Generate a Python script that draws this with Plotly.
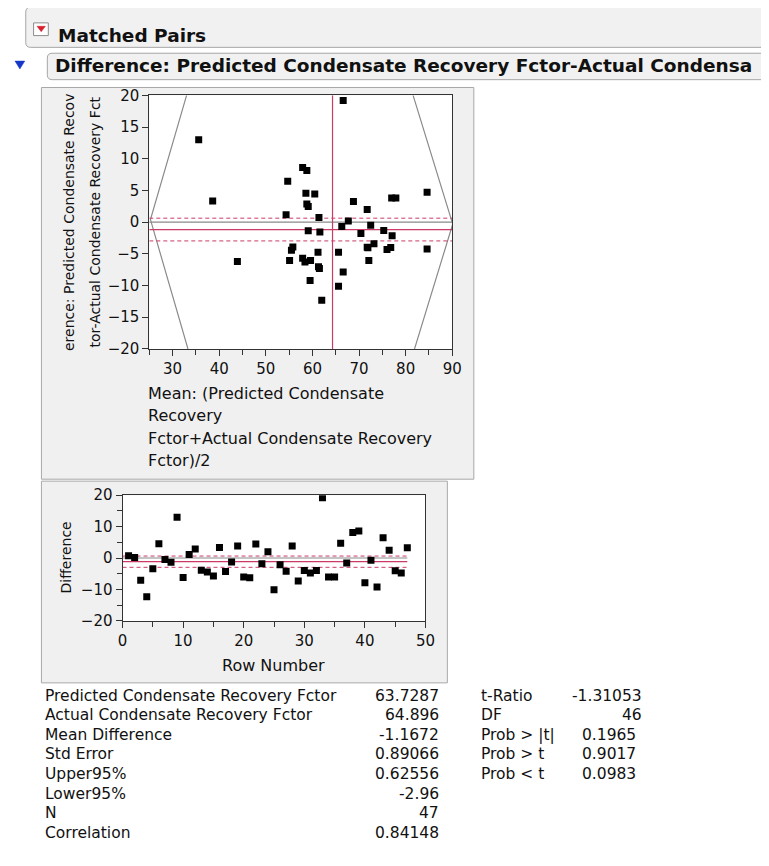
import plotly.graph_objects as go

W, H = 769, 866


def px(x):
    return x / W


def py(y):
    return 1 - y / H


# ---------------- data ----------------
row_number = list(range(1, 48))
difference = [0.75, 0.2, -7.05, -12.3, -3.4, 4.55, -0.5, -1.35, 13.0, -6.2,
              1.15, 2.85, -3.9, -4.45, -5.7, 3.35, -4.3, -1.3, 3.8, -6.05,
              -6.3, 4.45, -1.8, 2.0, -10.1, -2.15, -4.25, 3.8, -7.3, -3.95,
              -4.75, -4.0, 19.2, -6.05, -6.05, 4.7, -1.55, 8.15, 8.6, -7.85,
              -0.7, -9.2, 6.45, 2.45, -4.05, -4.75, 3.25]
mean_pair = [61.4, 67.7, 61.3, 62.0, 73.2, 58.6, 72.5, 59.1, 35.6, 43.9,
             54.35, 58.8, 55.8, 55.5, 57.9, 38.6, 76.0, 75.3, 77.0, 55.1,
             58.4, 60.5, 70.4, 71.75, 65.6, 77.1, 84.6, 77.9, 61.5, 71.75,
             61.2, 76.8, 66.6, 59.6, 72.1, 84.6, 61.6, 58.8, 57.9, 66.6,
             66.3, 59.5, 54.7, 59.1, 71.9, 65.6, 68.8]

pred_mean = 63.7287
act_mean = 64.896
mean_diff = -1.1672
std_err = 0.89066
upper95 = 0.62556
lower95 = -2.96
n_obs = 47
correlation = 0.84148
t_ratio = -1.31053
dof = 46
prob_abs = 0.1965
prob_gt = 0.9017
prob_lt = 0.0983

# envelope (grey) lines of the mean-difference plot
env_left_x = [33.0, 25.25, 33.3]
env_left_y = [20, 0.4, -20]
env_right_x = [81.6, 90.1, 81.9]
env_right_y = [20, -0.3, -20]

mean_range = [25, 90]
diff_range = [-20, 20]
row_range = [0, 50]

stat_labels = ["Predicted Condensate Recovery Fctor", "Actual Condensate Recovery Fctor",
               "Mean Difference", "Std Error", "Upper95%", "Lower95%", "N", "Correlation"]
stat_values = [pred_mean, act_mean, mean_diff, std_err, upper95, lower95, n_obs, correlation]
test_labels = ["t-Ratio", "DF", "Prob > |t|", "Prob > t", "Prob < t"]
test_values = [t_ratio, dof, prob_abs, prob_gt, prob_lt]

# ---------------- styles ----------------
FONT = "DejaVu Sans"
RED = "#cc3a66"
GREY = "#8a8a8a"
TXT = "#111111"
grand_mean = (pred_mean + act_mean) / 2

fig = go.Figure()

# scatter (mean vs difference) ------------------------------------
fig.add_trace(go.Scatter(x=env_left_x, y=env_left_y, mode="lines",
                         line=dict(color=GREY, width=1.2), xaxis="x", yaxis="y"))
fig.add_trace(go.Scatter(x=env_right_x, y=env_right_y, mode="lines",
                         line=dict(color=GREY, width=1.2), xaxis="x", yaxis="y"))
fig.add_trace(go.Scatter(x=mean_range, y=[0, 0], mode="lines",
                         line=dict(color=GREY, width=1.2), xaxis="x", yaxis="y"))
for v in (upper95, lower95):
    fig.add_trace(go.Scatter(x=mean_range, y=[v, v], mode="lines",
                             line=dict(color=RED, width=1, dash="4px,3px"), xaxis="x", yaxis="y"))
fig.add_trace(go.Scatter(x=mean_range, y=[mean_diff, mean_diff], mode="lines",
                         line=dict(color=RED, width=1.2), xaxis="x", yaxis="y"))
fig.add_trace(go.Scatter(x=[grand_mean, grand_mean], y=diff_range, mode="lines",
                         line=dict(color=RED, width=1.2), xaxis="x", yaxis="y"))
fig.add_trace(go.Scatter(x=mean_pair, y=difference, mode="markers",
                         marker=dict(symbol="square", size=7, color="black"),
                         xaxis="x", yaxis="y"))

# row plot -----------------------------------------------------------
row_span = [0, n_obs]
fig.add_trace(go.Scatter(x=row_span, y=[0, 0], mode="lines",
                         line=dict(color=GREY, width=1.2), xaxis="x2", yaxis="y2"))
for v in (upper95, lower95):
    fig.add_trace(go.Scatter(x=row_span, y=[v, v], mode="lines",
                             line=dict(color=RED, width=1, dash="4px,3px"), xaxis="x2", yaxis="y2"))
fig.add_trace(go.Scatter(x=row_span, y=[mean_diff, mean_diff], mode="lines",
                         line=dict(color=RED, width=1.2), xaxis="x2", yaxis="y2"))
fig.add_trace(go.Scatter(x=row_number, y=difference, mode="markers",
                         marker=dict(symbol="square", size=7, color="black"),
                         xaxis="x2", yaxis="y2"))

# ---------------- shapes ----------------
shapes = []


def rrect(x0, y0, x1, y1, r, fill, line):
    p = (f"M {px(x0 + r)},{py(y0)} L {px(x1)},{py(y0)} L {px(x1)},{py(y1)} "
         f"L {px(x0 + r)},{py(y1)} Q {px(x0)},{py(y1)} {px(x0)},{py(y1 - r)} "
         f"L {px(x0)},{py(y0 + r)} Q {px(x0)},{py(y0)} {px(x0 + r)},{py(y0)} Z")
    return dict(type="path", xref="paper", yref="paper", path=p,
                fillcolor=fill, line=dict(color=line, width=1), layer="below")


def rect(x0, y0, x1, y1, fill, line, width=1):
    return dict(type="rect", xref="paper", yref="paper",
                x0=px(x0), x1=px(x1), y0=py(y1), y1=py(y0),
                fillcolor=fill, line=dict(color=line, width=width), layer="below")


def tri(pts, fill):
    p = "M " + " L ".join(f"{px(a)},{py(b)}" for a, b in pts) + " Z"
    return dict(type="path", xref="paper", yref="paper", path=p,
                fillcolor=fill, line=dict(color=fill, width=0.5), layer="above")


# header 1
shapes.append(rrect(13, -10, 800, 31, 5, "#f1f1f1", "#a6a6a6"))
shapes.append(dict(type="rect", xref="paper", yref="paper", x0=px(21), x1=px(36),
                   y0=py(19), y1=py(6), fillcolor="white",
                   line=dict(color="#8c8c8c", width=1), layer="above"))
shapes.append(tri([(24.5, 9.5), (33, 9.5), (28.75, 15)], "#d8202c"))
# header 2
shapes.append(rrect(35, 37, 800, 64, 5, "#f1f1f1", "#a6a6a6"))
shapes.append(tri([(2, 45), (12, 45), (7, 53)], "#1638c8"))
# frames
shapes.append(rect(29, 72, 470, 472, "#f0f0f0", "#a8a8a8"))
shapes.append(rect(29, 474, 443, 680, "#f0f0f0", "#a8a8a8"))
# plot areas
shapes.append(rect(139, 80, 448, 339, "white", "rgba(0,0,0,0)", 0))
shapes.append(rect(111.7, 488.3, 420.7, 616.7, "white", "rgba(0,0,0,0)", 0))

# ---------------- annotations ----------------
ann = []


def text(x, y, s, size, xanchor="left", bold=False, angle=0, color=TXT):
    ann.append(dict(xref="paper", yref="paper", x=px(x), y=py(y), text=s,
                    showarrow=False, xanchor=xanchor, yanchor="middle",
                    textangle=angle, borderpad=0,
                    font=dict(family=FONT, size=size, color=color,
                              weight="bold" if bold else "normal")))


text(45, 19, "Matched Pairs", 18.5, bold=True)
text(42, 50, "Difference: Predicted Condensate Recovery Fctor-Actual Condensa", 18.5, bold=True)

# scatter axis titles
text(57, 209.5, "erence: Predicted Condensate Recov", 14, xanchor="center", angle=-90)
text(84, 209.5, "tor-Actual Condensate Recovery Fct", 14, xanchor="center", angle=-90)
xt_lines = ["Mean: (Predicted Condensate", "Recovery",
            "Fctor+Actual Condensate Recovery", "Fctor)/2"]
for i, s in enumerate(xt_lines):
    text(137, 384 + 23 * i, s, 16)

# row plot titles
text(54, 552, "Difference", 14, xanchor="center", angle=-90)
text(266, 662, "Row Number", 16, xanchor="center")

# table
for i, (lab, val) in enumerate(zip(stat_labels, stat_values)):
    yy = 693 + 20 * i
    text(32, yy, lab, 15.5)
    text(435, yy, f"{val}", 15.5, xanchor="right")
for i, (lab, val) in enumerate(zip(test_labels, test_values)):
    yy = 693 + 20 * i
    text(476, yy, lab, 15.5)
    text(643 if i < 2 else 636, yy, f"{val}", 15.5, xanchor="right")

# ---------------- axes ----------------
tickfont = dict(family=FONT, size=15, color=TXT)
common = dict(showgrid=False, zeroline=False, showline=True, linecolor="#333333",
              linewidth=1, mirror=True, ticks="outside", ticklen=6, tickwidth=1,
              tickcolor="#333333", tickfont=tickfont, fixedrange=True)

fig.update_layout(
    width=W, height=H, autosize=False,
    margin=dict(l=0, r=0, t=0, b=0, pad=0),
    paper_bgcolor="white", plot_bgcolor="rgba(0,0,0,0)",
    showlegend=False, hovermode=False,
    shapes=shapes, annotations=ann,
    xaxis=dict(domain=[px(139), px(448)], range=mean_range, anchor="y",
               tickmode="linear", tick0=30, dtick=10,
               minor=dict(tick0=25, dtick=5, ticks="outside", ticklen=5,
                          tickcolor="#333333", showgrid=False),
               **common),
    yaxis=dict(domain=[py(339), py(80)], range=diff_range, anchor="x",
               tickmode="linear", tick0=-20, dtick=5, **common),
    xaxis2=dict(domain=[px(111.7), px(420.7)], range=row_range, anchor="y2",
                tickmode="linear", tick0=0, dtick=10,
                minor=dict(tick0=0, dtick=5, ticks="outside", ticklen=5,
                           tickcolor="#333333", showgrid=False),
                **common),
    yaxis2=dict(domain=[py(616.7), py(488.3)], range=diff_range, anchor="x2",
                tickmode="linear", tick0=-20, dtick=10,
                minor=dict(tick0=-20, dtick=5, ticks="outside", ticklen=5,
                           tickcolor="#333333", showgrid=False),
                **common),
)

fig.write_html("out.html")
